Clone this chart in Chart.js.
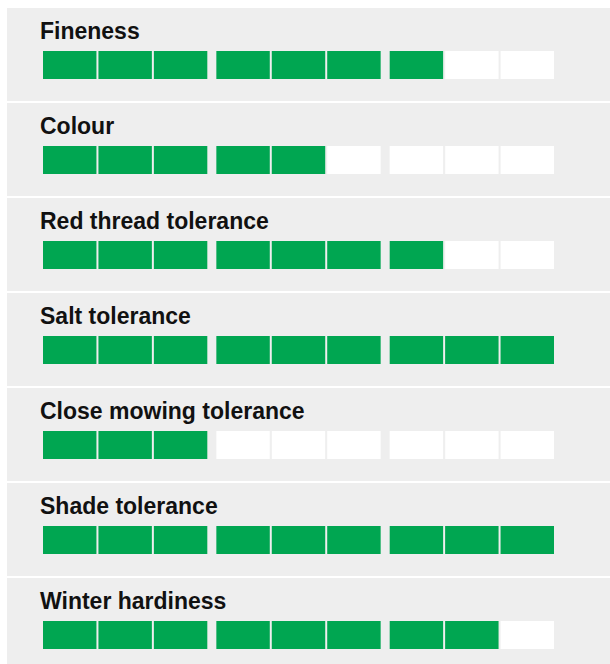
<!DOCTYPE html>
<html lang="en">
<head>
  <meta charset="UTF-8">
  <title>Variety ratings</title>
  <script src="https://cdn.jsdelivr.net/npm/chart.js"></script>
  <style>
    html, body { margin: 0; padding: 0; overflow: hidden; background: #fff; }
    #panels { position: absolute; left: 7px; top: 8px; width: 603px; }
    .panel { position: relative; height: 93px; margin-bottom: 2px; background: #eeeeee; }
    .panel h2 {
      position: absolute; left: 33px; top: 11.5px; margin: 0;
      font: bold 23px "Liberation Sans", Arial, sans-serif; line-height: 1;
      color: #111;
    }
    .panel canvas { position: absolute; left: 0; top: 43px; }
  </style>
</head>
<body>
  <div id="panels"></div>

  <script>
    // ratings out of 9, shown as 3 blocks of 3 cells
    const traits = ['Fineness', 'Colour', 'Red thread tolerance', 'Salt tolerance',
                    'Close mowing tolerance', 'Shade tolerance', 'Winter hardiness'];
    const scores = [7, 5, 7, 9, 3, 9, 8];
    const maxScore = 9;
    const groupSize = 3;

    const GREEN = '#00a651';
    const EMPTY = '#ffffff';
    const PANEL = '#eeeeee';
    const SPACER = 0.127; // gap between blocks, in cell units

    function buildDatasets(score) {
      const sets = [];
      for (let i = 0; i < maxScore; i++) {
        if (i > 0 && i % groupSize === 0) {
          sets.push({ data: [SPACER], backgroundColor: 'rgba(0,0,0,0)', borderWidth: 0 });
        }
        sets.push({
          data: [1],
          backgroundColor: i < score ? GREEN : EMPTY,
          borderColor: PANEL,
          borderWidth: { left: 1, right: 1, top: 0, bottom: 0 },
          borderSkipped: false
        });
      }
      return sets;
    }

    const holder = document.getElementById('panels');
    const spacers = Math.floor((maxScore - 1) / groupSize);

    traits.forEach((name, k) => {
      const panel = document.createElement('div');
      panel.className = 'panel';
      const title = document.createElement('h2');
      title.textContent = name;
      const canvas = document.createElement('canvas');
      canvas.width = 603;
      canvas.height = 28;
      panel.appendChild(title);
      panel.appendChild(canvas);
      holder.appendChild(panel);

      new Chart(canvas.getContext('2d'), {
        type: 'bar',
        data: { labels: [name], datasets: buildDatasets(scores[k]) },
        options: {
          indexAxis: 'y',
          responsive: false,
          animation: false,
          events: [],
          layout: { padding: { left: 35, right: 55, top: 0, bottom: 0 } },
          datasets: { bar: { barPercentage: 1, categoryPercentage: 1, inflateAmount: 0 } },
          scales: {
            x: { stacked: true, min: 0, max: maxScore + spacers * SPACER, display: false },
            y: { stacked: true, display: false }
          },
          plugins: { legend: { display: false }, tooltip: { enabled: false }, title: { display: false } }
        }
      });
    });
  </script>
</body>
</html>
